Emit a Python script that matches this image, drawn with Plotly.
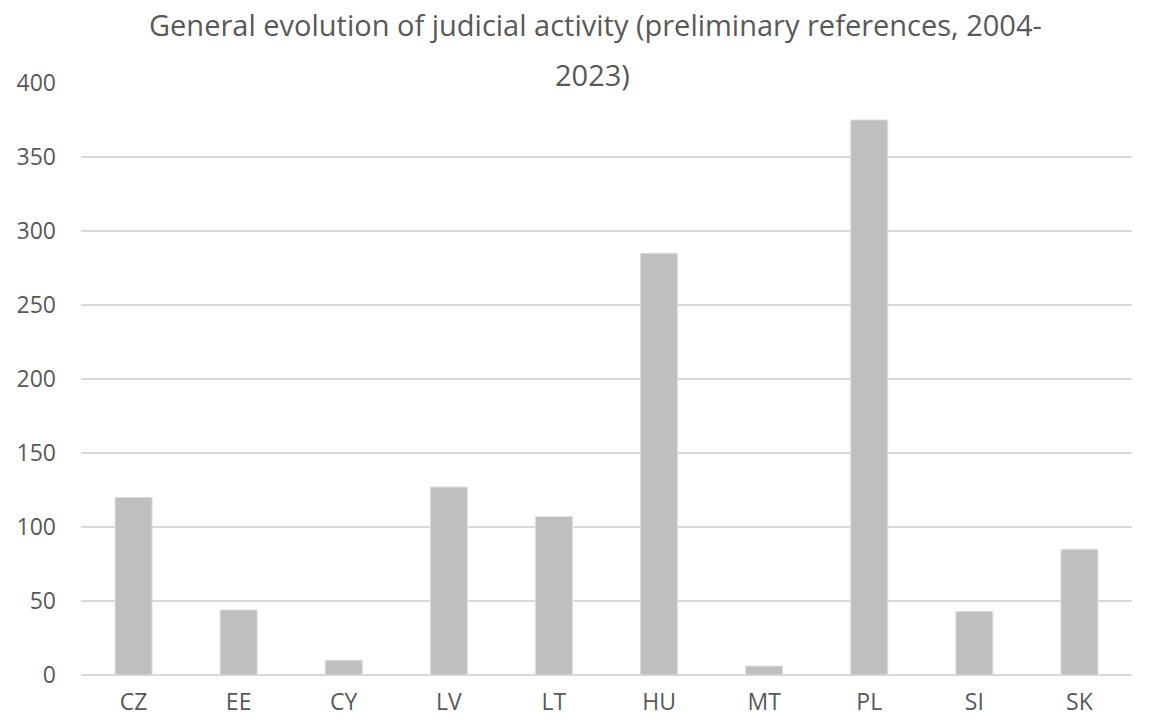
import plotly.graph_objects as go

categories = ["CZ", "EE", "CY", "LV", "LT", "HU", "MT", "PL", "SI", "SK"]
references = [120, 44, 10, 127, 107, 285, 6, 375, 43, 85]
y_ticks = [0, 50, 100, 150, 200, 250, 300, 350, 400]
title_line1 = "General evolution of judicial activity (preliminary references, 2004-"
title_line2 = "2023)"

W, H = 1153, 719
L, R, T, B = 81, 21, 83, 44
pw, ph = W - L - R, H - T - B

def px_x(x):
    return (x - L) / pw

def px_y(y):
    return (H - B - y) / ph

text_color = "#595959"
font_family = "Open Sans, Noto Sans, sans-serif"

fig = go.Figure(
    go.Bar(
        x=categories,
        y=references,
        marker=dict(color="#bfbfbf", line=dict(color="#dedede", width=1)),
    )
)

fig.update_layout(
    width=W,
    height=H,
    margin=dict(l=L, r=R, t=T, b=B, autoexpand=False),
    paper_bgcolor="white",
    plot_bgcolor="white",
    bargap=0.648,
    showlegend=False,
    font=dict(family=font_family, color=text_color, size=23),
    xaxis=dict(
        showgrid=False,
        showline=False,
        ticks="",
        tickfont=dict(size=23, color=text_color),
        ticklabelstandoff=11,
        automargin=False,
    ),
    yaxis=dict(
        range=[0, 400],
        tickvals=y_ticks,
        showgrid=True,
        gridcolor="#d9d9d9",
        gridwidth=2,
        zeroline=True,
        zerolinecolor="#d9d9d9",
        zerolinewidth=2,
        showline=False,
        ticks="",
        tickfont=dict(size=23, color=text_color),
        ticklabelstandoff=24,
        automargin=False,
    ),
    annotations=[
        dict(text=title_line1, xref="paper", yref="paper", x=px_x(595.5), y=px_y(25),
             xanchor="center", yanchor="middle", showarrow=False,
             font=dict(size=29, color=text_color, family=font_family)),
        dict(text=title_line2, xref="paper", yref="paper", x=px_x(592), y=px_y(74),
             xanchor="center", yanchor="middle", showarrow=False,
             font=dict(size=29, color=text_color, family=font_family)),
    ],
)

fig.write_html(
    "out.html",
    config={"displayModeBar": False},
    post_script="document.body.style.margin='0';document.body.style.overflow='hidden';",
)
